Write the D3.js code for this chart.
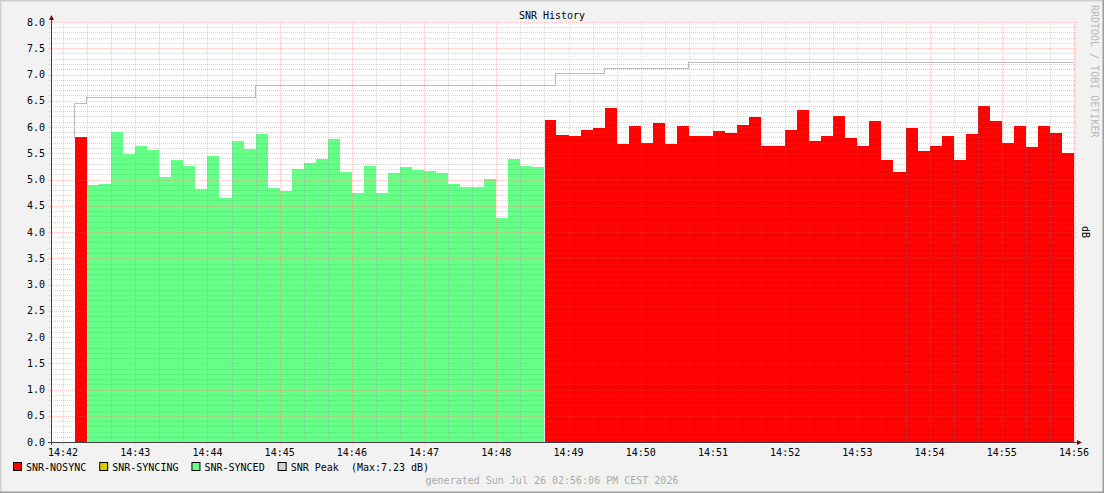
<!DOCTYPE html>
<html>
<head>
<meta charset="utf-8">
<script src="https://cdn.jsdelivr.net/npm/d3@7"></script>
<style>
html, body { margin: 0; padding: 0; background: #f2f2f2; }
svg { display: block; }
text { font-family: "DejaVu Sans Mono", monospace; font-size: 10px; }
</style>
</head>
<body>
<svg id="chart" width="1104" height="493"></svg>
<script>
// samples are 10 s apart, first one closes at 14:42:20
const stepSeconds = 10;
const firstSampleEnd = "2026-07-26T14:42:20Z";
const viewStart = "2026-07-26T14:41:50Z";
const viewEnd = "2026-07-26T14:56:00Z";

// SNR in dB, one run per modem state, in time order
const nosyncStart = [5.81];
const synced = [4.90, 4.92, 5.91, 5.49, 5.64, 5.56, 5.05, 5.38, 5.26, 4.82,
                5.45, 4.65, 5.73, 5.59, 5.87, 4.84, 4.79, 5.20, 5.31, 5.39,
                5.77, 5.14, 4.75, 5.25, 4.75, 5.12, 5.23, 5.19, 5.16, 5.12,
                4.92, 4.86, 4.86, 5.01, 4.27, 5.39, 5.25, 5.23];
const nosyncEnd = [6.14, 5.85, 5.82, 5.94, 5.99, 6.37, 5.68, 6.02, 5.70, 6.08,
                   5.68, 6.02, 5.82, 5.82, 5.93, 5.89, 6.04, 6.19, 5.63, 5.63,
                   5.94, 6.33, 5.73, 5.82, 6.21, 5.80, 5.63, 6.12, 5.37, 5.15,
                   5.99, 5.54, 5.64, 5.82, 5.38, 5.87, 6.40, 6.12, 5.70, 6.01,
                   5.61, 6.02, 5.89, 5.51];
const syncing = []; // no syncing samples in this window

// peak line: value holds from that sample index on
const peakFromIndex = [0, 1, 15, 40, 44, 51];
const peakValues = [6.46, 6.57, 6.80, 7.03, 7.12, 7.23];
const peakMax = 7.23;

const legendNames = ["SNR-NOSYNC", "SNR-SYNCING", "SNR-SYNCED", "SNR Peak"];
const legendColors = ["#ff0000", "#ddcc00", "#66ff88", "#d0d0d0"];
const stateColor = {nosync: "#ff0000", syncing: "#ddcc00", synced: "#66ff88"};

const yTicks = d3.range(0, 8.01, 0.5);
const yMinor = d3.range(0, 8.01, 0.1);

const W = 1104, H = 493;
const pLeft = 51, pRight = 1074, pTop = 22, pBottom = 442;

const svg = d3.select("#chart");

// build the sample list
const samples = [];
[["nosync", nosyncStart], ["syncing", syncing], ["synced", synced], ["nosync", nosyncEnd]]
  .forEach(([state, vals]) => vals.forEach(v => samples.push({state: state, v: v})));
const t0 = new Date(firstSampleEnd).getTime();
samples.forEach((d, i) => {
  d.end = new Date(t0 + i * stepSeconds * 1000);
  d.start = new Date(d.end.getTime() - stepSeconds * 1000);
});

const x = d3.scaleUtc().domain([new Date(viewStart), new Date(viewEnd)]).range([pLeft, pRight]);
const y = d3.scaleLinear().domain([0, 8]).range([pBottom, pTop]);
const px = v => Math.round(v) + 0.5;

// frame
svg.append("rect").attr("width", W).attr("height", H).attr("fill", "#f2f2f2");
svg.append("path").attr("d", `M0,${H} V0 H${W}`).attr("stroke", "#cfcfcf").attr("stroke-width", 3).attr("fill", "none");
svg.append("path").attr("d", `M0,${H} H${W} V0`).attr("stroke", "#9c9c9c").attr("stroke-width", 3).attr("fill", "none");

svg.append("rect").attr("x", pLeft).attr("y", pTop).attr("width", pRight - pLeft).attr("height", pBottom - pTop)
  .attr("fill", "#ffffff");

// bars
svg.append("g").attr("shape-rendering", "crispEdges")
  .selectAll("rect").data(samples).join("rect")
  .attr("x", d => Math.round(x(d.start)))
  .attr("width", d => Math.round(x(d.end)) - Math.round(x(d.start)))
  .attr("y", d => y(d.v))
  .attr("height", d => pBottom - y(d.v))
  .attr("fill", d => stateColor[d.state]);

// thin white gap where the state changes
const changes = samples.filter((d, i) => i > 0 && d.state !== samples[i - 1].state);
svg.append("g").attr("shape-rendering", "crispEdges")
  .selectAll("rect").data(changes).join("rect")
  .attr("x", d => Math.round(x(d.start)))
  .attr("width", 1)
  .attr("y", d => y(d.v))
  .attr("height", d => pBottom - y(d.v))
  .attr("fill", "#ffffff");

// grid on top
const grid = svg.append("g").attr("shape-rendering", "crispEdges").attr("stroke-dasharray", "1,1");
const minorT = x.ticks(d3.utcSecond.every(20)).filter(t => t.getUTCSeconds() !== 0);
const majorT = x.ticks(d3.utcMinute.every(1));
const minorCol = "rgba(128,128,128,0.32)", majorCol = "rgba(255,90,90,0.33)";
grid.selectAll(".vmin").data(minorT).join("line")
  .attr("x1", d => px(x(d))).attr("x2", d => px(x(d)))
  .attr("y1", pTop).attr("y2", pBottom + 2)
  .attr("stroke", minorCol);
grid.selectAll(".hmin").data(yMinor.filter(v => Math.abs(v * 2 - Math.round(v * 2)) > 0.01)).join("line")
  .attr("y1", d => px(y(d))).attr("y2", d => px(y(d)))
  .attr("x1", pLeft - 2).attr("x2", pRight + 2)
  .attr("stroke", minorCol);
grid.selectAll(".vmaj").data(majorT).join("line")
  .attr("x1", d => px(x(d))).attr("x2", d => px(x(d)))
  .attr("y1", pTop).attr("y2", pBottom + 3)
  .attr("stroke", majorCol);
grid.selectAll(".hmaj").data(yTicks).join("line")
  .attr("y1", d => px(y(d))).attr("y2", d => px(y(d)))
  .attr("x1", pLeft - 3).attr("x2", pRight + 3)
  .attr("stroke", majorCol);

// peak line
const peakPts = [[samples[0].start, samples[0].v]];
peakFromIndex.forEach((idx, k) => peakPts.push([samples[idx].start, peakValues[k]]));
peakPts.push([samples[samples.length - 1].end, peakValues[peakValues.length - 1]]);
svg.append("path")
  .attr("d", d3.line().x(d => px(x(d[0])) - 1).y(d => px(y(d[1]))).curve(d3.curveStepAfter)(peakPts))
  .attr("fill", "none").attr("stroke", "#bcbcbc").attr("stroke-width", 1.2);

// axes
const axisCol = "#404040";
svg.append("line").attr("x1", pLeft + 0.5).attr("x2", pLeft + 0.5).attr("y1", pBottom + 3).attr("y2", pTop - 4)
  .attr("stroke", axisCol);
svg.append("line").attr("x1", pLeft - 3).attr("x2", pRight + 3).attr("y1", pBottom + 0.5).attr("y2", pBottom + 0.5)
  .attr("stroke", axisCol);
svg.append("path").attr("d", `M${pLeft - 2},${pTop - 2} L${pLeft + 3},${pTop - 2} L${pLeft + 0.5},${pTop - 7} Z`).attr("fill", "#800000");
svg.append("path").attr("d", `M${pRight + 3},${pBottom - 2} L${pRight + 3},${pBottom + 3} L${pRight + 8},${pBottom + 0.5} Z`).attr("fill", "#800000");

// tick labels
svg.append("g").selectAll("text").data(yTicks).join("text")
  .attr("x", 45).attr("y", d => y(d) + 3.6)
  .attr("text-anchor", "end").attr("fill", "#000")
  .text(d3.format(".1f"));
svg.append("g").selectAll("text").data(majorT).join("text")
  .attr("x", d => x(d)).attr("y", 456)
  .attr("text-anchor", "middle").attr("fill", "#000")
  .text(d3.utcFormat("%H:%M"));

// title, unit, watermark
svg.append("text").attr("x", W / 2).attr("y", 19).attr("text-anchor", "middle").text("SNR History");
svg.append("text").attr("transform", `translate(1082,${(pTop + pBottom) / 2}) rotate(90)`)
  .attr("text-anchor", "middle").text("dB");
svg.append("text").attr("transform", "translate(1091,5) rotate(90)")
  .attr("fill", "#b8b8b8").text("RRDTOOL / TOBI OETIKER");

// legend
const legendLabels = legendNames.map((n, i) => i === 3 ? `${n}  (Max:${peakMax.toFixed(2)} dB)` : n);
let lx = 13.5;
legendLabels.forEach((lab, i) => {
  svg.append("rect").attr("x", lx).attr("y", 462.5).attr("width", 8).attr("height", 8)
    .attr("fill", legendColors[i]).attr("stroke", "#000").attr("stroke-width", 1);
  const t = svg.append("text").attr("x", lx + 12.5).attr("y", 470.5)
    .attr("xml:space", "preserve").style("white-space", "pre").text(lab);
  lx = lx + 12.5 + t.node().getComputedTextLength() + 13.5;
});

svg.append("text").attr("x", W / 2).attr("y", 484).attr("text-anchor", "middle")
  .attr("fill", "#aaaaaa").style("white-space", "pre")
  .text("generated Sun Jul 26 02:56:06 PM CEST 2026");
</script>
</body>
</html>
